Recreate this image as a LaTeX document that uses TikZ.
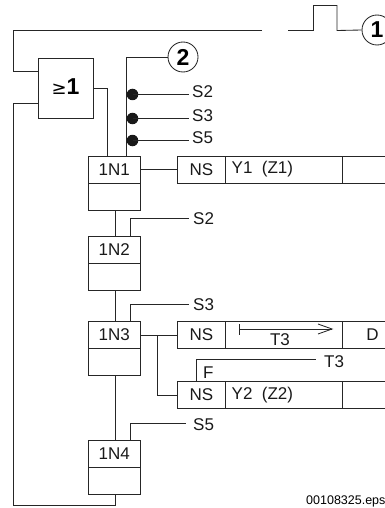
\documentclass[tikz,border=0pt]{standalone}
\usepackage{fontspec}
\setmainfont{Liberation Sans}
\newfontfamily\dejavu{DejaVu Sans}
\tikzset{
  wire/.style={draw=black!85,line width=0.85pt,line cap=butt,line join=miter},
  stepbox/.style={wire,fill=none,minimum width=52.5pt,minimum height=27pt,inner sep=0pt,outer sep=0pt},
  lab/.style={font=\fontsize{17}{18}\selectfont,inner sep=0pt,text=black!90},
  tag/.style={lab,anchor=west},
  numc/.style={circle,draw=black!85,line width=0.85pt,minimum size=30pt,inner sep=0pt,font=\fontsize{23}{24}\selectfont\bfseries},
  dotc/.style={circle,fill=black!90,minimum size=11.5pt,inner sep=0pt},
  actcell/.style={wire,minimum height=27pt,inner sep=0pt,outer sep=0pt},
}
\begin{document}
\begin{tikzpicture}[x=1pt,y=-1pt]
\useasboundingbox (0,0) rectangle (385,508);
\clip (0,0) rectangle (385,508);
% numbered circles
\node[numc] (c1) at (377,30) {1};
\node[numc] (c2) at (183,57) {2};
% OR box
\node[stepbox,minimum width=55pt,minimum height=60.5pt] (or) at (65.5,88.25) {};
\node[inner sep=0pt,font=\fontsize{23}{24}\selectfont\bfseries] (ortext) at (65.5,87) {{\normalfont\dejavu\fontsize{18}{18}\selectfont≥}1};
% steps
\foreach \n/\y/\t in {s1/169.5/1N1,s2/249.5/1N2,s3/335/1N3,s4/453.5/1N4}{
  \node[stepbox,lab] (\n) at (114.25,\y) {\t};
  \node[stepbox,anchor=north] (\n b) at (\n.south) {};
}
% actions
\foreach \n/\y/\a/\b/\c in {a1/169.5/NS/Y1\ \ (Z1)/,a3/335/NS//D,a4/395/NS/Y2\ \ (Z2)/}{
  \node[actcell,lab,minimum width=48pt] (\n n) at (201.5,\y) {\a};
  \node[actcell,lab,minimum width=117pt,anchor=west] (\n m) at (\n n.east) {};
  \node[actcell,lab,minimum width=60pt,anchor=west] (\n r) at (\n m.east) {\c};
  \node[tag] at ([xshift=6pt]\n m.west) {\b};
}
% pulse input
\coordinate (ga) at (262,30.5);
\coordinate (gb) at (288,30.5);
\coordinate (orin1) at (or.west |- 0,71);
\coordinate (orin2) at (or.west |- 0,103.5);
\coordinate (orout) at (or.east |- 0,88.5);
\draw[wire] (c1.west) -- (337,30.5) -- (337,5.5) -- (313.5,5.5) -- (313.5,30.5) -- (gb);
\draw[wire] (ga) -- (13.5,30.5) -- (13.5,71) -- (orin1);
\draw[wire] (orin2) -- (13.5,103.5) -- (13.5,505) -- (115,505) -- (115,0|-s4b.south);
\draw[wire] (orout) -- (107,88.5) -- (107,0|-s1.north);
\draw[wire] (c2.west) -- (126,57) -- (126,0|-s1.north);
% dots
\foreach \n/\y/\t in {d2/94.5/S2,d3/118.5/S3,d5/140.5/S5}{
  \node[dotc] (\n) at (132.5,\y) {};
  \node[tag] (\n t) at (192,\y-3) {\t};
  \draw[wire] (\n.center) -- (189,\y);
}
% chain
\draw[wire] (115,0|-s1b.south) -- (115,0|-s2.north);
\draw[wire] (115,0|-s2b.south) -- (115,0|-s3.north);
\draw[wire] (115,0|-s3b.south) -- (115,0|-s4.north);
% transitions
\foreach \n/\y/\t/\e in {s2/218/S2/189,s3/304/S3/189,s4/423.5/S5/186}{
  \node[tag] (\n t) at (193,\y+1) {\t};
  \draw[wire] (130.5,0|-\n.north) -- (130.5,\y) -- (\e,\y);
}
% step to action
\draw[wire] (s1.east) -- (a1n.west);
\draw[wire] (s3.east) -- (a3n.west);
\coordinate (br) at (157,335);
\draw[wire] (br) -- (157,395) -- (a4n.west);
% timer
\coordinate (tm) at (239,329);
\coordinate (tmend) at (332,329);
\draw[wire] (239,324) -- (239,335);
\draw[wire] (tm) -- (tmend);
\draw[wire] (318,324) -- (tmend) -- (318,334);
\node[lab] (t3a) at (280,339.5) {T3};
% T3 F
\draw[wire] (196.5,0|-a4n.north) -- (196.5,359.5) -- (316,359.5);
\node[tag] (t3b) at (324,362) {T3};
\node[tag] (ff) at (203,373) {F};
\node[anchor=west,inner sep=0pt,font=\fontsize{12.5}{14}\selectfont] (fn) at (306,501) {00108325.eps};
\end{tikzpicture}
\end{document}
